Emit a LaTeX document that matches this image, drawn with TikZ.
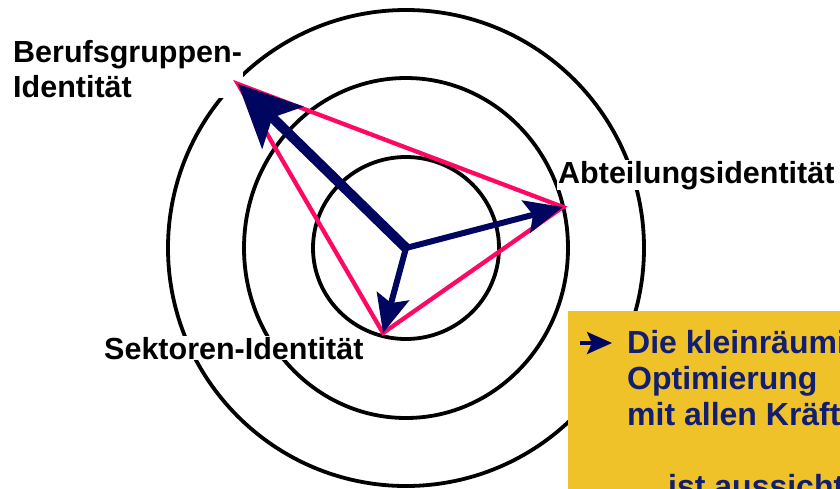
\documentclass[tikz,border=0pt]{standalone}
\usepackage{fontspec}
\setmainfont{Liberation Sans}
\usetikzlibrary{arrows.meta,positioning}

\definecolor{dunkelblau}{RGB}{0,6,96}
\definecolor{textblau}{RGB}{18,30,112}
\definecolor{profilrot}{RGB}{255,8,100}
\definecolor{gelb}{RGB}{240,194,42}

\tikzset{
  ring/.style={draw=black, line width=3.8pt},
  achse/.style={fill=white, inner sep=1pt, align=left,
    font=\fontsize{30.5}{35}\selectfont\bfseries},
  vektor/.style={draw=dunkelblau, line width=6pt,
    -{Stealth[length=38pt,width=33pt,inset=7pt]}},
  hauptvektor/.style={draw=dunkelblau, line width=10pt,
    -{Stealth[length=62pt,width=58pt,inset=14pt]}},
  profil/.style={draw=profilrot, line width=4.3pt, line join=miter},
  kasten/.style={fill=gelb, inner sep=0pt},
  hinweis/.style={text=textblau, inner sep=0pt, align=left,
    font=\fontsize{32}{36}\selectfont\bfseries},
}

\begin{document}
\begin{tikzpicture}[x=1pt,y=-1pt]
  \clip (0,0) rectangle (840,488);

  % rings
  \coordinate (m) at (406,248);
  \draw[ring] (m) ellipse [x radius=93, y radius=91];
  \draw[ring] (m) ellipse [x radius=162, y radius=170];
  \draw[ring] (m) circle [radius=238];

  % axes (base = last line)
  \node[achse, anchor=base west] (beruf) at (12,97) {Berufsgruppen-\\Identität};
  \node[achse, anchor=base west] (abt) at (557,183) {Abteilungsidentität};
  \node[achse, anchor=base west] (sek) at (103,359) {Sektoren-Identität};

  \coordinate (b) at (238,84);
  \coordinate (a) at (563,207);
  \coordinate (s) at (383,333);

  \draw[profil] (b) -- (a) -- (s) -- cycle;

  \draw[hauptvektor] (m) -- (b);
  \draw[vektor] (m) -- (a);
  \draw[vektor] (m) -- (s);

  % note
  \node[kasten, anchor=north west, minimum width=300pt, minimum height=200pt]
    (box) at (568,311) {};
  \node[hinweis, anchor=base west] (merk) at (627,497)
    {Die kleinräumige\\Optimierung\\mit allen Kräften\\[36pt]\hspace*{41pt}ist aussichtslos};
  \coordinate (pfeil) at (580,343);
  \draw[dunkelblau, line width=3.5pt, -{Stealth[length=25pt,width=22pt,inset=5pt]}]
    (pfeil) -- ++(32,0);
\end{tikzpicture}
\end{document}
